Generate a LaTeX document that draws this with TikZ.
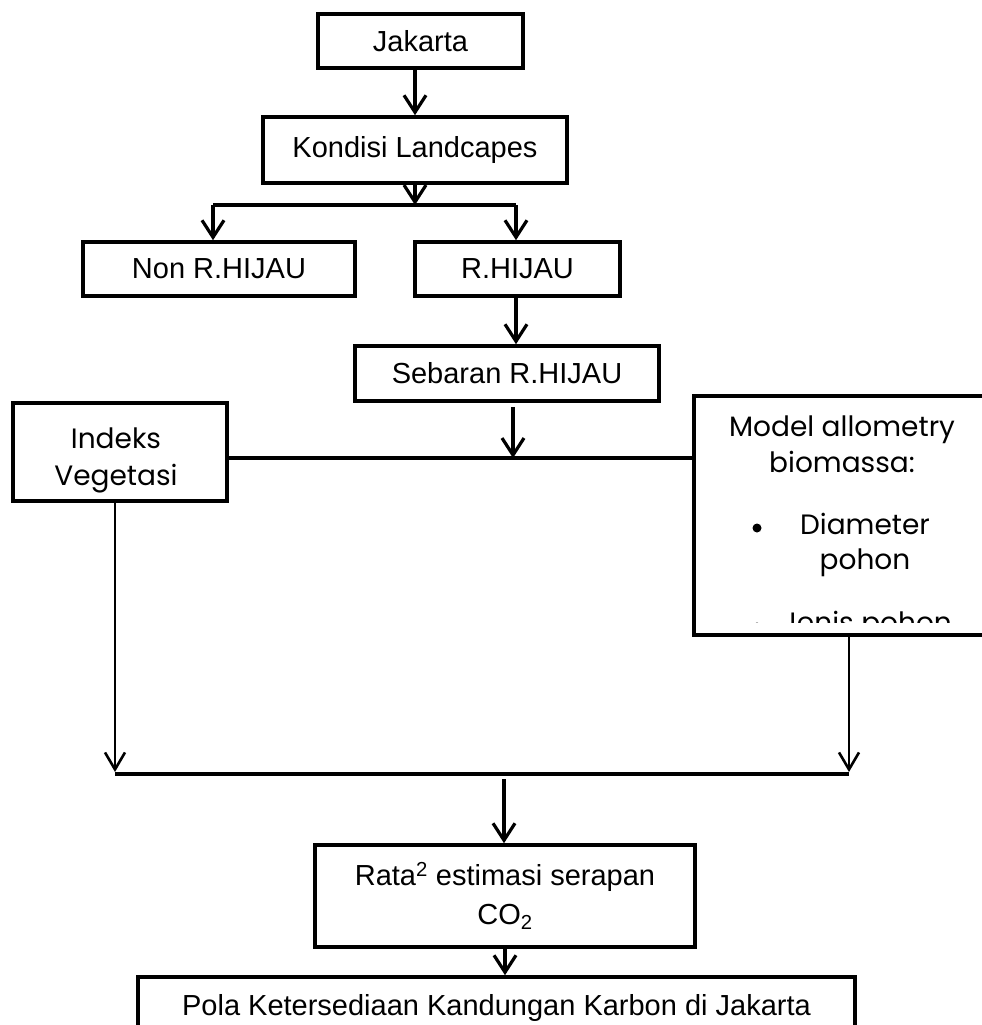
\documentclass[tikz,border=0pt]{standalone}
\usepackage{fontspec}
\setmainfont{Liberation Sans}
\newfontfamily\gothic{Poppins}
\usetikzlibrary{arrows.meta}

\begin{document}
\begin{tikzpicture}[x=1pt,y=-1pt,
  every node/.style={font=\fontsize{29}{36}\selectfont},
  box/.style={draw=black, line width=3.6pt, fill=white, inner sep=0pt, align=center},
  gtext/.style={font=\gothic\fontsize{28}{37}\selectfont, align=center, inner sep=0pt},
  flow/.style={line width=3.2pt, -{Straight Barb[length=17pt,width=22pt,line width=3.2pt]}},
  flowthin/.style={line width=2.6pt, -{Straight Barb[length=17pt,width=20pt,line width=2.6pt]}},
  bar/.style={line width=4pt},
  dot/.style={circle, fill=black, inner sep=0pt, minimum size=9pt}
]
\useasboundingbox (0,0) rectangle (982,1025);

% --- boxes of the flow ---
\node[box, minimum width=205pt, minimum height=54pt] (jak) at (420.5,41) {Jakarta};
\node[box, minimum width=304pt, minimum height=66pt] (kon) at (415,150) {Kondisi Landcapes};
\node[box, minimum width=272pt, minimum height=54pt] (non) at (219,269) {Non R.HIJAU};
\node[box, minimum width=205pt, minimum height=54pt] (hij) at (517.5,269) {R.HIJAU};
\node[box, minimum width=304pt, minimum height=55pt] (seb) at (507,373.5) {Sebaran R.HIJAU};
\node[box, minimum width=214pt, minimum height=98pt] (ind) at (120,452) {};
\node[gtext] (indtext) at (116,460) {Indeks\\Vegetasi};
\node[box, minimum width=318pt, minimum height=239pt] (mod) at (853,515.5) {};
\node[box, minimum width=380pt, minimum height=102pt, font=\fontsize{29}{39}\selectfont] (rat) at (505,896)
  {Rata\textsuperscript{2} estimasi serapan\\CO\textsubscript{2}};
\node[box, minimum width=717pt, minimum height=61pt] (pola) at (496.5,1007.5)
  {Pola Ketersediaan Kandungan Karbon di Jakarta};

% --- text of the allometry box, cut off at its lower margin ---
\begin{scope}
  \clip (694,396) rectangle (982,622);
  \node[gtext, font=\gothic\fontsize{28}{36}\selectfont] (modhead) at (842,444.5) {Model allometry\\biomassa:};
  \node[dot] (b1) at (757,528) {};
  \node[gtext, font=\gothic\fontsize{28}{35}\selectfont] (diam) at (865,545) {Diameter\\pohon};
  \node[dot] (b2) at (757,627) {};
  \node[gtext] (jenis) at (867,625.5) {Jenis pohon};
\end{scope}

% --- junction points ---
\coordinate (split) at (415,205);
\coordinate (bl) at (213,205);
\coordinate (br) at (516,205);
\coordinate (mid) at (513,458);
\coordinate (jl) at (115,774);
\coordinate (jr) at (849,774);
\coordinate (jm) at (504,779);

% --- connectors ---
\draw[flow] (kon.north |- jak.south) -- (kon.north);
\draw[flow] (kon.south) -- (split);
\draw[line width=3.2pt] (bl) -- (br);
\draw[flow] (bl) -- (bl |- non.north);
\draw[flow] (br) -- (br |- hij.north);
\draw[flow] (hij.south -| br) -- (br |- seb.north);
\draw[bar] (ind.east |- mid) -- (mod.west |- mid);
\draw[flow] ([yshift=-4pt]seb.south -| mid) -- (mid);
\draw[flowthin] (ind.south -| jl) -- ([yshift=2pt]jl);
\draw[flowthin] (mod.south -| jr) -- ([yshift=2pt]jr);
\draw[bar] (jl) -- (jr);
\draw[flow] (jm) -- (jm |- rat.north);
\draw[flow] (rat.south) -- (rat.south |- pola.north);
\end{tikzpicture}
\end{document}
